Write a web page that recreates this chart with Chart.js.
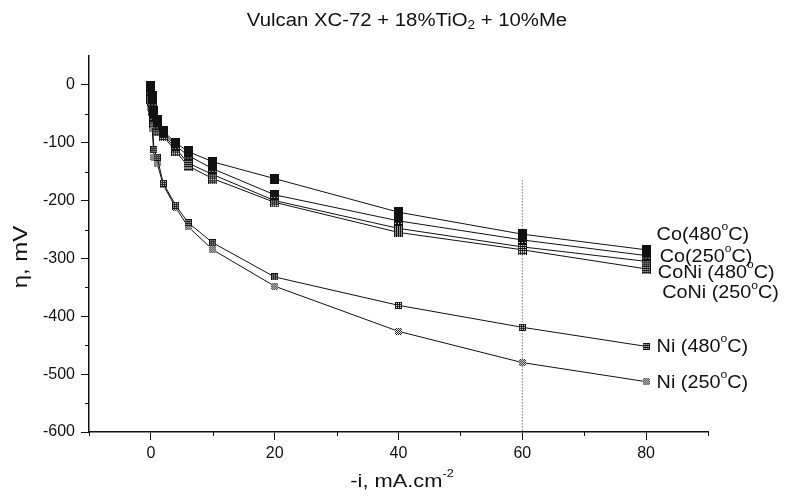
<!DOCTYPE html>
<html>
<head>
<meta charset="utf-8">
<script src="https://cdn.jsdelivr.net/npm/chart.js@4.4.0/dist/chart.umd.min.js"></script>
<style>
  html, body { margin: 0; padding: 0; background: #fff; }
  #wrap { width: 785px; height: 497px; }
</style>
</head>
<body>
<div id="wrap"><canvas id="chart" width="785" height="497"></canvas></div>
<script>
// current density, -i (mA.cm-2)
const current = [0, 0.2, 0.5, 1, 2, 4, 6, 10, 20, 40, 60, 80];

// overpotential, mV
const co480   = [-2, -20, -45, -60, -80, -100, -115, -133, -162, -220, -258, -285];
const co250   = [-10, -30, -55, -70, -82, -105, -122, -145, -190, -235, -268, -295];
const coni480 = [-20, -40, -60, -75, -85, -110, -135, -155, -200, -248, -280, -305];
const coni250 = [-25, -45, -65, -80, -88, -115, -140, -162, -203, -255, -285, -318];
const ni480   = [-30, -60, -112, -125, -170, -208, -238, -273, -332, -381, -419, -452];
const ni250   = [-40, -75, -125, -135, -173, -212, -245, -285, -348, -426, -480, -513];

const seriesNames = ['Co(480', 'Co(250', 'CoNi (480', 'CoNi (250', 'Ni (480', 'Ni (250'];

const xTicks = [0, 20, 40, 60, 80];
const yTicks = [0, -100, -200, -300, -400, -500, -600];

// dotted marker line at 60 mA.cm-2
const guideX = [60, 60];
const guideY = [-165, -600];

// small patterned squares for the markers
function makeMarker(w, h, kind) {
    const c = document.createElement('canvas');
    c.width = w; c.height = h;
    const g = c.getContext('2d');
    g.fillStyle = '#111';
    g.fillRect(0, 0, w, h);
    if (kind === 'solid') return c;
    g.fillStyle = '#fff';
    for (let y = 0; y < h; y++) {
        for (let x = 0; x < w; x++) {
            let white = false;
            if (kind === 'dots') white = x % 3 === 1 && y % 3 === 1 && y > h / 2;
            if (kind === 'check') white = x % 2 === 1 && y % 2 === 1;
            if (kind === 'light') white = (x + y) % 2 === 0;
            if (white) g.fillRect(x, y, 1, 1);
        }
    }
    return c;
}

const markers = [
    makeMarker(9, 10, 'solid'),
    makeMarker(9, 10, 'dots'),
    makeMarker(9, 10, 'check'),
    makeMarker(9, 10, 'check'),
    makeMarker(7, 7, 'check'),
    makeMarker(7, 7, 'light')
];

const allSeries = [co480, co250, coni480, coni250, ni480, ni250];

const datasets = allSeries.map(function (vals, i) {
    return {
        label: seriesNames[i],
        data: vals.map(function (v, k) { return { x: current[k], y: v }; }),
        borderColor: '#111',
        borderWidth: 1,
        pointStyle: markers[i],
        pointRadius: 5,
        showLine: true,
        tension: 0
    };
});

datasets.push({
    label: 'guide',
    data: guideX.map(function (x, k) { return { x: x, y: guideY[k] }; }),
    borderColor: '#333',
    borderWidth: 1,
    borderDash: [1, 2],
    pointRadius: 0,
    showLine: true
});

// label placement next to the curve ends (value coordinates)
const labelPos = [
    [81.7, -259], [82.2, -297], [81.9, -325], [82.6, -360], [81.7, -453], [81.7, -515]
];

const FONT = '"Liberation Sans", Arial, sans-serif';

// draws text pieces with super/subscripts, slightly widened like the original print
function drawSup(ctx, parts, x, y, size, stretch) {
    ctx.save();
    ctx.translate(x, y);
    ctx.scale(stretch, 1);
    let cx = 0;
    parts.forEach(function (p) {
        if (p.sup) {
            ctx.font = Math.round(size * 0.6) + 'px ' + FONT;
            ctx.fillText(p.t, cx, -size * 0.42);
        } else if (p.sub) {
            ctx.font = Math.round(size * 0.65) + 'px ' + FONT;
            ctx.fillText(p.t, cx, size * 0.28);
        } else {
            ctx.font = size + 'px ' + FONT;
            ctx.fillText(p.t, cx, 0);
        }
        cx += ctx.measureText(p.t).width;
    });
    ctx.restore();
}

function widthOf(ctx, parts, size, stretch) {
    let w = 0;
    parts.forEach(function (p) {
        const s = p.sup ? Math.round(size * 0.6) : p.sub ? Math.round(size * 0.65) : size;
        ctx.font = s + 'px ' + FONT;
        w += ctx.measureText(p.t).width;
    });
    return w * stretch;
}

const textPlugin = {
    id: 'texts',
    afterDraw: function (chart) {
        const ctx = chart.ctx;
        const xs = chart.scales.x, ys = chart.scales.y;
        ctx.save();
        ctx.fillStyle = '#111';
        ctx.textBaseline = 'middle';
        ctx.textAlign = 'left';

        // minor ticks
        ctx.strokeStyle = '#111';
        ctx.lineWidth = 1;
        [-10, 10, 30, 50, 70, 90].forEach(function (v) {
            const px = Math.round(xs.getPixelForValue(v)) + 0.5;
            ctx.beginPath();
            ctx.moveTo(px, ys.bottom);
            ctx.lineTo(px, ys.bottom + 4);
            ctx.stroke();
        });
        [-550, -450, -350, -250, -150, -50].forEach(function (v) {
            const py = Math.round(ys.getPixelForValue(v)) + 0.5;
            ctx.beginPath();
            ctx.moveTo(xs.left - 4, py);
            ctx.lineTo(xs.left, py);
            ctx.stroke();
        });

        // series labels
        seriesNames.forEach(function (name, i) {
            const px = xs.getPixelForValue(labelPos[i][0]);
            const py = ys.getPixelForValue(labelPos[i][1]);
            drawSup(ctx, [{ t: name }, { t: 'o', sup: true }, { t: 'C)' }], px, py, 18, 1.1);
        });

        // title
        const title = [{ t: 'Vulcan XC-72 + 18%TiO' }, { t: '2', sub: true }, { t: ' + 10%Me' }];
        const tw = widthOf(ctx, title, 18, 1.13);
        drawSup(ctx, title, 407 - tw / 2, 21, 18, 1.13);

        // x axis title
        const xt = [{ t: '-i, mA.cm' }, { t: '-2', sup: true }];
        const xw = widthOf(ctx, xt, 19, 1.15);
        drawSup(ctx, xt, 402 - xw / 2, 482, 19, 1.15);

        // y axis title
        ctx.translate(21, 257);
        ctx.rotate(-Math.PI / 2);
        const yt = [{ t: '\u03B7, mV' }];
        const yw = widthOf(ctx, yt, 20, 1.2);
        drawSup(ctx, yt, -yw / 2, 0, 20, 1.2);
        ctx.restore();
    }
};

new Chart('chart', {
    type: 'scatter',
    data: { datasets: datasets },
    options: {
        responsive: false,
        animation: false,
        layout: { padding: { top: 56, right: 77, left: 0, bottom: 0 } },
        plugins: {
            legend: { display: false },
            tooltip: { enabled: false }
        },
        scales: {
            x: {
                type: 'linear',
                min: -10,
                max: 90,
                afterBuildTicks: function (s) { s.ticks = xTicks.map(function (v) { return { value: v }; }); },
                afterFit: function (s) { s.height = 65; },
                grid: { drawOnChartArea: false, drawTicks: true, tickLength: 8, tickColor: '#111' },
                border: { color: '#111', width: 1.5 },
                ticks: {
                    color: '#111',
                    padding: 4,
                    font: { family: FONT, size: 16 }
                }
            },
            y: {
                type: 'linear',
                min: -600,
                max: 50,
                afterBuildTicks: function (s) { s.ticks = yTicks.map(function (v) { return { value: v }; }); },
                afterFit: function (s) { s.width = 89; },
                grid: { drawOnChartArea: false, drawTicks: true, tickLength: 8, tickColor: '#111' },
                border: { color: '#111', width: 1.5 },
                ticks: {
                    color: '#111',
                    padding: 6,
                    font: { family: FONT, size: 16 }
                }
            }
        }
    },
    plugins: [textPlugin]
});
</script>
</body>
</html>
